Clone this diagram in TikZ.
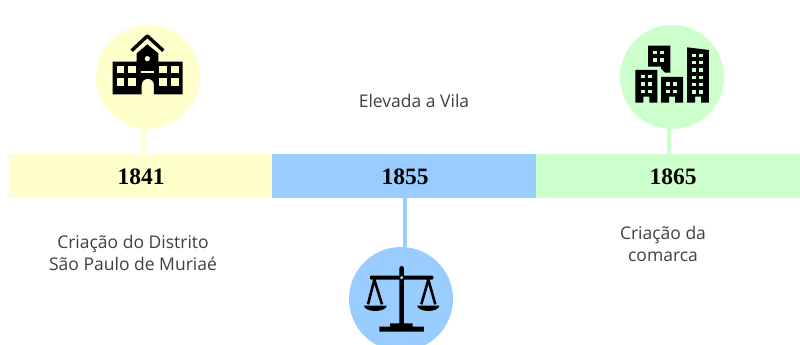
\documentclass[tikz,border=0pt]{standalone}
\usepackage{fontspec}
\setmainfont{Open Sans}
\newfontfamily\yearfont{Liberation Serif}
\definecolor{barY}{HTML}{FFFFCC}
\definecolor{barB}{HTML}{99CCFF}
\definecolor{barG}{HTML}{CCFFCC}
\definecolor{txt}{HTML}{404040}
\tikzset{
  bar/.style={minimum width=#1,minimum height=44pt,inner sep=0pt,outer sep=0pt},
  disc/.style={circle,minimum size=104pt,inner sep=0pt,outer sep=0pt},
  year/.style={font=\yearfont\bfseries\fontsize{23.5}{26}\selectfont,text=black,inner sep=0pt},
  lbl/.style={font=\fontsize{17.5}{22.5}\selectfont,text=txt,align=center,inner sep=0pt},
  stem/.style={line width=4pt},
  ico/.style={x=.3333pt,y=-.3333pt}
}
\begin{document}
\begin{tikzpicture}[x=1pt,y=-1pt,line join=round]
  \clip (0,0) rectangle (800,345);
  \node[bar=263pt,fill=barY] (bar41) at (140.5,176) {};
  \node[bar=264pt,fill=barB] (bar55) at (404,176) {};
  \node[bar=264pt,fill=barG] (bar65) at (668,176) {};
  \node[year] (y41) at (141,177) {1841};
  \node[year] (y55) at (405,177) {1855};
  \node[year] (y65) at (673,177) {1865};
  \node[disc,fill=barY] (disc41) at (148,77) {};
  \node[disc,fill=barB] (disc55) at (401,299) {};
  \node[disc,fill=barG] (disc65) at (672,77) {};
  \coordinate (s41) at (143.5,154);
  \coordinate (s55) at (404.5,198);
  \coordinate (s65) at (668.5,154);
  \draw[stem,barY] (s41) -- (s41 |- disc41.south);
  \draw[stem,barB] (s55) -- (s55 |- disc55.north);
  \draw[stem,barG] (s65) -- (s65 |- disc65.south);
  \node[lbl] (vila) at (414,101) {Elevada a Vila};
  \node[lbl] (distrito) at (133,253) {Criação do Distrito\\São Paulo de Muriaé};
  \node[lbl] (comarca) at (663,244) {Criação da\\comarca};
  % school
  \begin{scope}[ico,shift={(90pt,-10pt)}]
    \draw[line width=3.4pt] (125,122) -- (172,78) -- (220,122);
    \fill (68,155) -- (140,155) -- (140,130) -- (172,103) -- (205,130) -- (205,155) -- (278,155)
      -- (278,253) -- (192,253) -- (192,225) arc (0:-180:18.5) -- (155,253) -- (68,253) -- cycle;
    \foreach \xa in {80,115,208,244}
      \foreach \ya in {168,205}
        \fill[barY] (\xa,\ya) rectangle ++(23,22);
    \fill[barY] (152,182) rectangle (192,189);
    \fill[barY] (172,146) circle (2.6pt);
  \end{scope}
  % buildings
  \begin{scope}[ico,shift={(610pt,-15pt)}]
    \fill (114,92) -- (181,92) -- (181,173) -- (165,173) -- (153,160) -- (153,155) -- (114,155) -- cycle;
    \fill (76,165) -- (142,165) -- (142,263) -- (118,263) -- (118,245) -- (100,245) -- (100,263) -- (76,263) -- cycle;
    \fill (153,186) -- (219,186) -- (219,263) -- (195,263) -- (195,245) -- (177,245) -- (177,263) -- (153,263) -- cycle;
    \fill (231,97) -- (297,105) -- (297,263) -- (273,263) -- (273,245) -- (255,245) -- (255,263) -- (231,263) -- cycle;
    \foreach \xa in {130,151}
      \foreach \ya in {108,130}
        \fill[barG] (\xa,\ya) rectangle ++(12,10);
    \foreach \xa in {92,115}
      \foreach \ya in {180,202,224}
        \fill[barG] (\xa,\ya) rectangle ++(12,10);
    \foreach \xa in {168,190}
      \foreach \ya in {202,224}
        \fill[barG] (\xa,\ya) rectangle ++(12,10);
    \foreach \xa in {246,268}
      \foreach \ya in {116,138,160,182,204,226}
        \fill[barG] (\xa,\ya) rectangle ++(12,10);
  \end{scope}
  % scales
  \begin{scope}[ico,shift={(340pt,-235pt)}]
    \fill (118,290) -- (252,290) -- (252,275) -- (218,275) -- (218,265) -- (192,265) -- (192,100)
      arc (0:-180:7) -- (178,265) -- (150,265) -- (150,275) -- (118,275) -- cycle;
    \fill[rounded corners=1pt] (90,122) rectangle (280,134);
    \fill[barB] (185,128) circle (1.8pt);
    \draw[line width=2.6pt] (84,208) -- (103,134) -- (126,208);
    \draw[line width=2.6pt] (244,208) -- (265,134) -- (286,208);
    \fill (72,212) -- (140,212) arc (0:180:34 and 16) -- cycle;
    \fill (232,212) -- (298,212) arc (0:180:33 and 16) -- cycle;
  \end{scope}
\end{tikzpicture}
\end{document}
